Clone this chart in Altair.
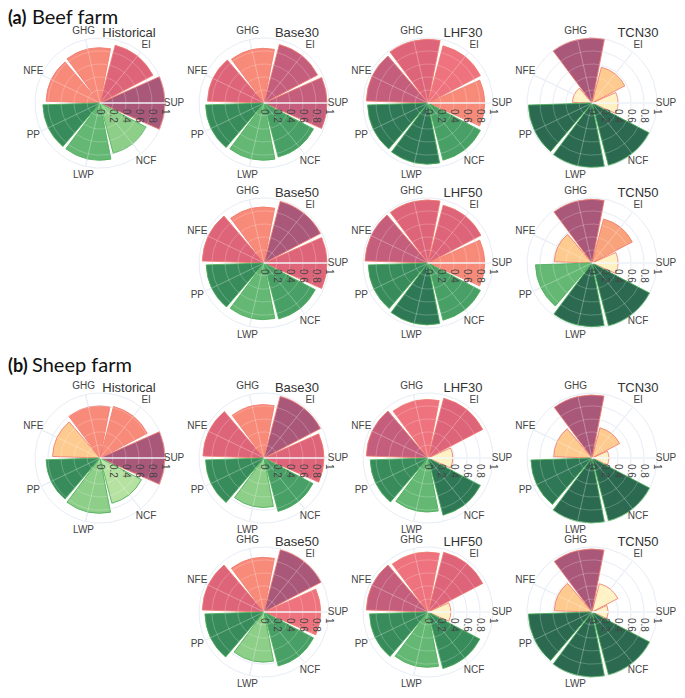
import math
import altair as alt
import pandas as pd

# ---------------- data ----------------
CATEGORIES = ["SUP", "EI", "GHG", "NFE", "PP", "LWP", "NCF"]
TICK_VALUES = [0, 0.2, 0.4, 0.6, 0.8, 1.0]
TICK_LABELS = ["0", "0.2", "0.4", "0.6", "0.8", "1"]
GRID_VALUES = [0.2, 0.4, 0.6, 0.8, 1.0]

HEADER_MARK = ["(a)", "(b)"]
HEADER_TEXT = ["Beef farm", "Sheep farm"]

BEEF_HISTORICAL = [1.00, 0.92, 0.85, 0.83, 0.88, 0.88, 0.80]
BEEF_HISTORICAL_LEVEL = [8, 6, 4, 4, 5, 3, 2]
BEEF_BASE30 = [0.97, 0.93, 0.84, 0.87, 0.90, 0.88, 0.86]
BEEF_BASE30_LEVEL = [7, 7, 4, 6, 5, 3, 4]
BEEF_LHF30 = [0.87, 0.91, 0.98, 0.95, 0.93, 0.94, 0.91]
BEEF_LHF30_LEVEL = [4, 5, 6, 7, 6, 6, 4]
BEEF_TCN30 = [0.40, 0.57, 1.00, 0.30, 0.98, 0.99, 0.99]
BEEF_TCN30_LEVEL = [1, 2, 8, 1, 7, 7, 7]
BEEF_BASE50 = [0.97, 0.98, 0.86, 0.95, 0.89, 0.87, 0.89]
BEEF_BASE50_LEVEL = [6, 8, 4, 6, 5, 3, 4]
BEEF_LHF50 = [0.87, 0.92, 0.97, 0.97, 0.92, 0.95, 0.91]
BEEF_LHF50_LEVEL = [4, 6, 6, 7, 5, 6, 4]
BEEF_TCN50 = [0.40, 0.70, 0.98, 0.58, 0.87, 0.98, 1.00]
BEEF_TCN50_LEVEL = [1, 3, 8, 2, 3, 7, 7]

SHEEP_HISTORICAL = [1.00, 0.82, 0.80, 0.73, 0.83, 0.85, 0.72]
SHEEP_HISTORICAL_LEVEL = [8, 4, 4, 2, 5, 2, 1]
SHEEP_BASE30 = [0.92, 0.98, 0.82, 0.94, 0.90, 0.76, 0.85]
SHEEP_BASE30_LEVEL = [6, 8, 4, 6, 5, 2, 4]
SHEEP_LHF30 = [0.38, 0.95, 0.90, 0.95, 0.89, 0.83, 0.91]
SHEEP_LHF30_LEVEL = [1, 6, 5, 7, 5, 3, 6]
SHEEP_TCN30 = [0.26, 0.48, 0.97, 0.59, 0.94, 1.00, 1.00]
SHEEP_TCN30_LEVEL = [1, 2, 8, 2, 6, 7, 7]
SHEEP_BASE50 = [0.87, 0.99, 0.84, 0.95, 0.91, 0.77, 0.86]
SHEEP_BASE50_LEVEL = [5, 8, 4, 6, 5, 2, 4]
SHEEP_LHF50 = [0.35, 0.95, 0.92, 0.95, 0.90, 0.85, 0.90]
SHEEP_LHF50_LEVEL = [1, 6, 5, 7, 5, 3, 5]
SHEEP_TCN50 = [0.25, 0.45, 0.97, 0.58, 0.98, 1.00, 1.00]
SHEEP_TCN50_LEVEL = [1, 1, 8, 2, 7, 7, 7]

PANEL_NAMES = ["Historical", "Base30", "LHF30", "TCN30", "Base50", "LHF50", "TCN50"]
PANEL_COL = [0, 1, 2, 3, 1, 2, 3]
PANEL_ROW = [0, 0, 0, 0, 1, 1, 1]

# ---------------- styles / layout ----------------
RED_PALETTE = ["#fef2c4", "#fdcb8f", "#f9a37d", "#f88a79", "#ee737e", "#de647a", "#c45e7c", "#a9587a"]
GREEN_PALETTE = ["#b6e2a1", "#8dcf88", "#64b874", "#48a066", "#388c5c", "#2f7856", "#2b6a50"]
RED_EDGE = "#ee7b6e"
GREEN_EDGE = "#4cae58"
GRID_COLOR = "#e3e9f3"
TEXT_COLOR = "#444444"
LABEL_FONT = "Liberation Sans"
HEADER_FONT = "Lato"
TITLE_DX = [29, 33, 35, 46]
WIDTH, HEIGHT = 669, 682
RMAX = 65
LABEL_RADIUS = 74
ROW_PIXELS = [95, 255, 450, 604]     # centres of the four panel rows
COL_PIXELS = [92, 584]               # centres of first and last panel columns
HEADER_Y = [16, 364]

beef = [
    (BEEF_HISTORICAL, BEEF_HISTORICAL_LEVEL), (BEEF_BASE30, BEEF_BASE30_LEVEL),
    (BEEF_LHF30, BEEF_LHF30_LEVEL), (BEEF_TCN30, BEEF_TCN30_LEVEL),
    (BEEF_BASE50, BEEF_BASE50_LEVEL), (BEEF_LHF50, BEEF_LHF50_LEVEL), (BEEF_TCN50, BEEF_TCN50_LEVEL),
]
sheep = [
    (SHEEP_HISTORICAL, SHEEP_HISTORICAL_LEVEL), (SHEEP_BASE30, SHEEP_BASE30_LEVEL),
    (SHEEP_LHF30, SHEEP_LHF30_LEVEL), (SHEEP_TCN30, SHEEP_TCN30_LEVEL),
    (SHEEP_BASE50, SHEEP_BASE50_LEVEL), (SHEEP_LHF50, SHEEP_LHF50_LEVEL), (SHEEP_TCN50, SHEEP_TCN50_LEVEL),
]

bar_rows, pan_rows = [], []
for si, series in enumerate([beef, sheep]):
    for pi, (vals, levels) in enumerate(series):
        row = PANEL_ROW[pi] + 2 * si
        pan_rows.append({"panel": PANEL_NAMES[pi], "col": PANEL_COL[pi], "row": row})
        for i, cat in enumerate(CATEGORIES):
            red = i < 4
            pal = RED_PALETTE if red else GREEN_PALETTE
            bar_rows.append({
                "panel": PANEL_NAMES[pi], "col": PANEL_COL[pi], "row": row,
                "cat": cat, "t0": i - 0.5, "t1": i + 0.5, "v": vals[i],
                "fillc": pal[levels[i] - 1], "edge": RED_EDGE if red else GREEN_EDGE,
            })
bars = pd.DataFrame(bar_rows)
pan = pd.DataFrame(pan_rows)
grid = pan.merge(pd.DataFrame({"r": GRID_VALUES, "a0": -0.5, "a1": len(CATEGORIES) - 0.5}), how="cross")
ticks = pan.merge(pd.DataFrame({"v": TICK_VALUES, "lab": TICK_LABELS}), how="cross")
spokes = pan.merge(pd.DataFrame({"tc": list(range(len(CATEGORIES))), "cat": CATEGORIES, "r": 1.0}), how="cross")
heads = pd.DataFrame({"mark": HEADER_MARK, "text": HEADER_TEXT, "hy": HEADER_Y})

xs = alt.Scale(domain=[0, 3], range=COL_PIXELS)
ys = alt.Scale(domain=[0, 1, 2, 3], range=ROW_PIXELS)
start = math.pi / 2 + math.pi / 7
ts = alt.Scale(domain=[-0.5, 6.5], range=[start, start - 2 * math.pi], zero=False)
rs = alt.Scale(type="linear", domain=[0, 1], range=[0, RMAX], zero=True)

X = alt.X("col:Q", scale=xs, axis=None)
Y = alt.Y("row:Q", scale=ys, axis=None)


def R(f):
    return alt.Radius(f, type="quantitative", scale=rs, stack=None)


def T(f):
    return alt.Theta(f, type="quantitative", scale=ts, stack=None)


grid_under = alt.Chart(grid).mark_arc(filled=False, stroke=GRID_COLOR, strokeWidth=1).encode(
    x=X, y=Y, theta=T("a0"), theta2=alt.Theta2("a1"), radius=R("r"))
spokes_under = alt.Chart(spokes).mark_arc(filled=False, stroke=GRID_COLOR, strokeWidth=1).encode(
    x=X, y=Y, theta=T("tc"), theta2=alt.Theta2("tc"), radius=R("r"))

bar_layer = alt.Chart(bars).mark_arc(padAngle=0.065, strokeWidth=1, strokeOpacity=0.85).encode(
    x=X, y=Y, theta=T("t0"), theta2=alt.Theta2("t1"), radius=R("v"),
    fill=alt.Fill("fillc:N", scale=None), stroke=alt.Stroke("edge:N", scale=None))

grid_over = alt.Chart(grid).mark_arc(filled=False, stroke="#ffffff", strokeWidth=1, strokeOpacity=0.22).encode(
    x=X, y=Y, theta=T("a0"), theta2=alt.Theta2("a1"), radius=R("r"))
spokes_over = alt.Chart(spokes).mark_arc(filled=False, stroke="#ffffff", strokeWidth=1, strokeOpacity=0.16).encode(
    x=X, y=Y, theta=T("tc"), theta2=alt.Theta2("tc"), radius=R("r"))
axis_line = alt.Chart(spokes).transform_filter(alt.datum.tc == 0).mark_arc(
    filled=False, stroke="#f4f6fb", strokeWidth=1.5, strokeOpacity=0.9).encode(
    x=X, y=Y, theta=T("tc"), theta2=alt.Theta2("tc"), radius=R("r"))

tick_text = alt.Chart(ticks).mark_text(
    angle=90, align="left", baseline="middle", dx=6, theta=math.pi / 2,
    fontSize=10, font=LABEL_FONT, color=TEXT_COLOR).encode(
    x=X, y=Y, radius=R("v"), text="lab:N")

cat_text = alt.Chart(spokes).mark_text(
    radius=LABEL_RADIUS, align="center", baseline="middle", fontSize=10, font=LABEL_FONT, color=TEXT_COLOR).encode(
    x=X, y=Y, theta=T("tc"), text="cat:N")

titles = []
for c in range(4):
    titles.append(alt.Chart(pan).transform_filter(alt.datum.col == c).mark_text(
        dx=TITLE_DX[c], dy=-70, align="center", baseline="middle", fontSize=13,
        font=LABEL_FONT, color="#333333").encode(x=X, y=Y, text="panel:N"))

h1 = alt.Chart(heads).mark_text(
    align="left", baseline="alphabetic", fontSize=18, fontWeight="bold", font=HEADER_FONT, color="#111111").encode(
    x=alt.value(0), y=alt.Y("hy:Q", scale=None), text="mark:N")
h2 = alt.Chart(heads).mark_text(
    align="left", baseline="alphabetic", fontSize=20, font=HEADER_FONT, color="#111111").encode(
    x=alt.value(24), y=alt.Y("hy:Q", scale=None), text="text:N")

chart = alt.layer(grid_under, spokes_under, bar_layer, grid_over, spokes_over, axis_line,
                  tick_text, cat_text, *titles, h1, h2).properties(
    width=WIDTH, height=HEIGHT, padding=0,
    autosize=alt.AutoSizeParams(type="none")).configure_view(stroke=None)
chart.save("out.html", embed_options={"renderer": "svg", "actions": False})
